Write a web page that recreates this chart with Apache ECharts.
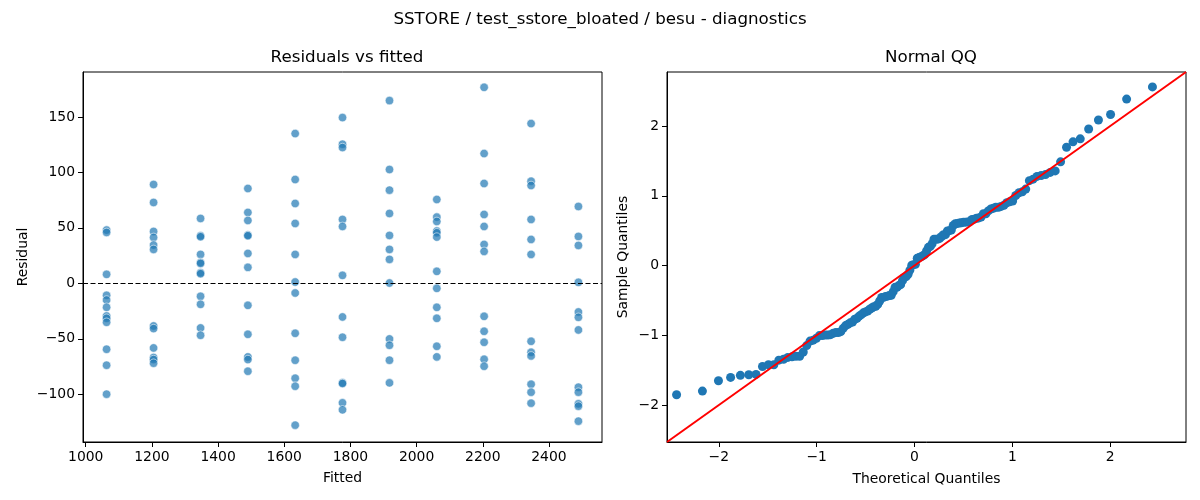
<!DOCTYPE html>
<html>
<head>
    <meta charset="utf-8">
    <script src="https://cdn.jsdelivr.net/npm/echarts@6/dist/echarts.min.js"></script>
    <style>
        html, body { margin: 0; padding: 0; background: #fff; }
        #chart { width: 1200px; height: 500px; }
    </style>
</head>
<body>
<div id="chart"></div>
<script>
    // fitted value of each column of points (left panel)
    var fittedLevels = [1063, 1205, 1347, 1490, 1633, 1776, 1918, 2061, 2204, 2346, 2489];

    // residuals read per fitted column
    var resid1063 = [48, 45.9, 8.1, -10.8, -15, -21.6, -29.4, -31.5, -35.1, -59.4, -73.8, -99.9];
    var resid1205 = [89.1, 72.9, 46.8, 41.4, 34.5, 30.6, -38.4, -40.8, -58.2, -66.9, -68.7, -72];
    var resid1347 = [58.5, 42.9, 42, 26.1, 18.9, 18, 9.6, 8.7, -11.7, -18.9, -40.2, -46.8];
    var resid1490 = [85.5, 63.9, 56.7, 43.5, 42.9, 27, 14.4, -19.8, -45.9, -66.3, -68.7, -79.2];
    var resid1633 = [135, 93.6, 72, 54, 26.1, 1.2, -8.7, -45, -69.3, -85.5, -92.7, -127.8];
    var resid1776 = [149.4, 125.4, 122.4, 57.6, 51.3, 7.2, -30.3, -48.6, -89.7, -90.3, -107.7, -114];
    var resid1918 = [164.7, 102.6, 84, 63, 43.2, 30.6, 21.6, 0.3, -50.1, -55.8, -69.3, -89.7];
    var resid2061 = [75.6, 59.7, 55.8, 47.1, 45.6, 41.7, 10.8, -4.5, -21.6, -31.5, -56.7, -66.3];
    var resid2204 = [176.7, 117, 90, 62.1, 51.3, 35.1, 28.8, -29.7, -43.2, -53.1, -68.4, -74.7];
    var resid2346 = [144, 92.1, 88.2, 57.6, 39.6, 26.1, -52.2, -62.1, -65.4, -90.9, -98.1, -108];
    var resid2489 = [69.3, 42.3, 34.2, 0.9, -25.8, -30.6, -42, -93.6, -98.1, -108.6, -110.7, -124.2];

    var residColumns = [resid1063, resid1205, resid1347, resid1490, resid1633, resid1776,
        resid1918, resid2061, resid2204, resid2346, resid2489];

    // normal QQ: theoretical quantiles
    var qqTheoretical = [
        -2.432, -2.168, -2.004, -1.880, -1.780, -1.694, -1.620, -1.554, -1.493, -1.438,
        -1.387, -1.339, -1.295, -1.252, -1.212, -1.174, -1.137, -1.102, -1.068, -1.035,
        -1.003, -0.972, -0.943, -0.914, -0.885, -0.858, -0.831, -0.805, -0.779, -0.754,
        -0.729, -0.704, -0.680, -0.657, -0.634, -0.611, -0.588, -0.566, -0.544, -0.522,
        -0.501, -0.479, -0.458, -0.438, -0.417, -0.396, -0.376, -0.356, -0.336, -0.316,
        -0.296, -0.277, -0.257, -0.238, -0.218, -0.199, -0.180, -0.161, -0.142, -0.123,
        -0.104, -0.085, -0.066, -0.047, -0.028, -0.009,
        0.009, 0.028, 0.047, 0.066, 0.085, 0.104, 0.123, 0.142, 0.161, 0.180,
        0.199, 0.218, 0.238, 0.257, 0.277, 0.296, 0.316, 0.336, 0.356, 0.376,
        0.396, 0.417, 0.438, 0.458, 0.479, 0.501, 0.522, 0.544, 0.566, 0.588,
        0.611, 0.634, 0.657, 0.680, 0.704, 0.729, 0.754, 0.779, 0.805, 0.831,
        0.858, 0.885, 0.914, 0.943, 0.972, 1.003, 1.035, 1.068, 1.102, 1.137,
        1.174, 1.212, 1.252, 1.295, 1.339, 1.387, 1.438, 1.493, 1.554, 1.620,
        1.694, 1.780, 1.880, 2.004, 2.168, 2.432
    ];

    // normal QQ: sample quantiles
    var qqSample = [
        -1.852, -1.800, -1.652, -1.604, -1.574, -1.565, -1.561, -1.448, -1.422, -1.422,
        -1.357, -1.343, -1.317, -1.309, -1.300, -1.300, -1.239, -1.148, -1.083, -1.070,
        -1.043, -1.004, -1.004, -0.996, -0.996, -0.991, -0.970, -0.961, -0.961, -0.948,
        -0.900, -0.861, -0.843, -0.822, -0.809, -0.770, -0.757, -0.726, -0.704, -0.678,
        -0.665, -0.652, -0.626, -0.609, -0.591, -0.583, -0.557, -0.509, -0.457, -0.457,
        -0.443, -0.439, -0.430, -0.426, -0.374, -0.313, -0.313, -0.287, -0.274, -0.217,
        -0.170, -0.157, -0.126, -0.065,
        0.004, 0.013, 0.017, 0.104, 0.117, 0.126, 0.139, 0.157, 0.209, 0.261,
        0.274, 0.313, 0.378, 0.378, 0.378, 0.391, 0.417, 0.443, 0.443, 0.496,
        0.500, 0.509, 0.574, 0.600, 0.604, 0.609, 0.613, 0.622, 0.622, 0.626,
        0.630, 0.661, 0.665, 0.678, 0.683, 0.696, 0.743, 0.743, 0.783, 0.809,
        0.822, 0.835, 0.835, 0.848, 0.865, 0.900, 0.913, 0.926, 1.004, 1.043,
        1.057, 1.096, 1.217, 1.239, 1.278, 1.291, 1.304, 1.335, 1.357, 1.487,
        1.696, 1.774, 1.817, 1.957, 2.087, 2.165, 2.387, 2.561
    ];

    // tick labels
    var fittedTicks = [1000, 1200, 1400, 1600, 1800, 2000, 2200, 2400];
    var residTicks = [-100, -50, 0, 50, 100, 150];
    var qqTicks = [-2, -1, 0, 1, 2];

    var fittedRange = [991.7, 2560.3];
    var residRange = [-143, 190.5];
    var qqRange = [-2.53, 2.775];

    var chart = echarts.init(document.getElementById('chart'), null, { renderer: 'canvas' });

    var residPoints = [];
    residColumns.forEach(function (col, i) {
        col.forEach(function (r) {
            residPoints.push([fittedLevels[i], r]);
        });
    });
    var qqPoints = qqTheoretical.map(function (x, i) { return [x, qqSample[i]]; });

    var FONT = 'DejaVu Sans';
    function minus(v) { return String(v).replace('-', '\u2212'); }

    function valueAxis(gridIndex, range, ticks, name, gap) {
        return {
            type: 'value',
            gridIndex: gridIndex,
            min: range[0],
            max: range[1],
            name: name,
            nameLocation: 'middle',
            nameGap: gap,
            nameTextStyle: { fontFamily: FONT, fontSize: 13.9, color: '#000' },
            axisLine: { show: true, onZero: false, lineStyle: { color: '#000', width: 1 } },
            axisTick: { show: true, length: 5, customValues: ticks, lineStyle: { color: '#000', width: 1 } },
            axisLabel: {
                customValues: ticks,
                margin: 8,
                fontFamily: FONT, fontSize: 13.9, color: '#000',
                formatter: minus
            },
            splitLine: { show: false }
        };
    }

    var titleStyle = { fontFamily: FONT, fontSize: 16.7, fontWeight: 'normal', color: '#000' };

    var option = {
        backgroundColor: '#fff',
        animation: false,
        title: [
            { text: 'SSTORE / test_sstore_bloated / besu - diagnostics', left: 'center', top: 6, textStyle: titleStyle },
            { text: 'Residuals vs fitted', left: 342, top: 44, textAlign: 'center', textStyle: titleStyle },
            { text: 'Normal QQ', left: 926, top: 44, textAlign: 'center', textStyle: titleStyle }
        ],
        grid: [
            { left: 83, top: 72, width: 519, height: 370, show: true, borderColor: '#000', borderWidth: 1, backgroundColor: 'transparent' },
            { left: 667, top: 72, width: 519, height: 370, show: true, borderColor: '#000', borderWidth: 1, backgroundColor: 'transparent' }
        ],
        xAxis: [
            valueAxis(0, fittedRange, fittedTicks, 'Fitted', 29),
            valueAxis(1, qqRange, qqTicks, 'Theoretical Quantiles', 30)
        ],
        yAxis: [
            valueAxis(0, residRange, residTicks, 'Residual', 53),
            valueAxis(1, qqRange, qqTicks, 'Sample Quantiles', 37)
        ],
        series: [
            {
                type: 'scatter',
                xAxisIndex: 0, yAxisIndex: 0,
                data: residPoints,
                symbolSize: 8.5,
                itemStyle: { color: '#1f77b4', opacity: 0.7, borderColor: '#fff', borderWidth: 0.8 },
                markLine: {
                    silent: true,
                    symbol: 'none',
                    label: { show: false },
                    lineStyle: { color: '#000', type: [5, 2.5], width: 1.2 },
                    data: [{ yAxis: 0 }]
                },
                z: 3
            },
            {
                type: 'scatter',
                xAxisIndex: 1, yAxisIndex: 1,
                data: qqPoints,
                symbolSize: 9,
                itemStyle: { color: '#1f77b4', opacity: 1 },
                z: 3
            },
            {
                type: 'line',
                xAxisIndex: 1, yAxisIndex: 1,
                data: [[qqRange[0], qqRange[0]], [qqRange[1], qqRange[1]]],
                symbol: 'none',
                lineStyle: { color: '#ff0000', width: 2 },
                z: 4
            }
        ]
    };
    chart.setOption(option);
</script>
</body>
</html>
